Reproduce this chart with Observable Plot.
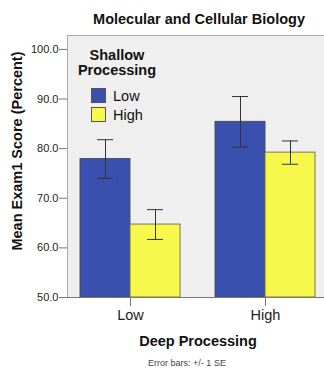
<!DOCTYPE html>
<html>
<head>
<meta charset="utf-8">
<script src="https://cdn.jsdelivr.net/npm/d3@7"></script>
<script src="https://cdn.jsdelivr.net/npm/@observablehq/plot@0.6"></script>
<style>
  body { margin: 0; background: #fff; }
  #wrap { position: relative; width: 324px; height: 368px; overflow: hidden; font-family: "Liberation Sans", Arial, sans-serif; color: #111; }
  .ov { position: absolute; white-space: nowrap; }
  #title { left: 199px; top: 19px; transform: translate(-50%, -50%); font-weight: bold; font-size: 14.5px; }
  #ylab { left: 17px; top: 151px; transform: translate(-50%, -50%) rotate(-90deg); font-weight: bold; font-size: 14.5px; }
  #xlab { left: 198px; top: 341px; transform: translate(-50%, -50%); font-weight: bold; font-size: 14.5px; }
  #cap { left: 187px; top: 363px; transform: translate(-50%, -50%); font-size: 9px; color: #444; }
  #leg { left: 77px; top: 48px; }
  #legTitle { font-weight: bold; font-size: 14.5px; line-height: 15px; text-align: center; width: 80px; }
  .row { display: flex; align-items: center; height: 19px; margin-left: 14px; font-size: 14.5px; }
  .sw { width: 13px; height: 13px; border: 1px solid #555; margin-right: 7px; }
</style>
</head>
<body>
<div id="wrap"></div>
<script>
const deepLevels = ["Low", "High"];
const shallowLevels = ["Low", "High"];
const meanShallowLow = [77.9, 85.4];
const meanShallowHigh = [64.7, 79.2];
const seShallowLow = [3.9, 5.1];
const seShallowHigh = [3.0, 2.35];
const yTicks = [50, 60, 70, 80, 90, 100];
const colors = ["#3a50ae", "#f8f84c"];

const rowsLow = deepLevels.map((d, i) => ({deep: d, shallow: shallowLevels[0], mean: meanShallowLow[i], se: seShallowLow[i]}));
const rowsHigh = deepLevels.map((d, i) => ({deep: d, shallow: shallowLevels[1], mean: meanShallowHigh[i], se: seShallowHigh[i]}));

const errStroke = "#333";
const chart = Plot.plot({
  width: 324,
  height: 368,
  marginLeft: 67,
  marginRight: 0,
  marginTop: 35,
  marginBottom: 71,
  style: {fontFamily: "Liberation Sans, Arial, sans-serif", background: "transparent"},
  x: {domain: deepLevels, paddingInner: 0.26, paddingOuter: 0.0815, align: 0.59, label: null},
  y: {domain: [50, 102.8], label: null},
  marks: [
    Plot.frame({fill: "#efefef", stroke: null}),
    Plot.frame({anchor: "top", stroke: "#a8a8a8"}),
    Plot.frame({anchor: "left", stroke: "#a8a8a8"}),
    Plot.barY(rowsLow, {x: "deep", y1: 50, y2: "mean", fill: colors[0], stroke: "#4a4a4a", strokeWidth: 0.9, insetRight: 50}),
    Plot.barY(rowsHigh, {x: "deep", y1: 50, y2: "mean", fill: colors[1], stroke: "#6a6a4a", strokeWidth: 0.9, insetLeft: 50}),
    Plot.ruleX(rowsLow, {x: "deep", y1: d => d.mean - d.se, y2: d => d.mean + d.se, dx: -25, stroke: errStroke}),
    Plot.ruleX(rowsHigh, {x: "deep", y1: d => d.mean - d.se, y2: d => d.mean + d.se, dx: 25, stroke: errStroke}),
    Plot.tickY(rowsLow, {x: "deep", y: d => d.mean + d.se, insetLeft: 17, insetRight: 67, stroke: errStroke}),
    Plot.tickY(rowsLow, {x: "deep", y: d => d.mean - d.se, insetLeft: 17, insetRight: 67, stroke: errStroke}),
    Plot.tickY(rowsHigh, {x: "deep", y: d => d.mean + d.se, insetLeft: 67, insetRight: 17, stroke: errStroke}),
    Plot.tickY(rowsHigh, {x: "deep", y: d => d.mean - d.se, insetLeft: 67, insetRight: 17, stroke: errStroke}),
    Plot.axisY({ticks: yTicks, tickFormat: d3.format(".1f"), tickSize: 8, tickPadding: 1, fontSize: 11, stroke: "#777", color: "#222", label: null}),
    Plot.axisX({tickSize: 9, tickPadding: 3, fontSize: 14.5, stroke: "#777", color: "#222", label: null}),
    Plot.ruleY([50], {stroke: "#777"})
  ]
});

const wrap = document.getElementById("wrap");
wrap.appendChild(chart);
const add = (id, html) => { const e = document.createElement("div"); e.className = "ov"; e.id = id; e.innerHTML = html; wrap.appendChild(e); return e; };
add("title", "Molecular and Cellular Biology");
add("ylab", "Mean Exam1 Score (Percent)");
add("xlab", "Deep Processing");
add("cap", "Error bars: +/- 1 SE");
add("leg", `<div id="legTitle">Shallow<br>Processing</div><div style="height:8px"></div>` +
  shallowLevels.map((s, i) => `<div class="row"><div class="sw" style="background:${colors[i]}"></div>${s}</div>`).join(""));
</script>
</body>
</html>
